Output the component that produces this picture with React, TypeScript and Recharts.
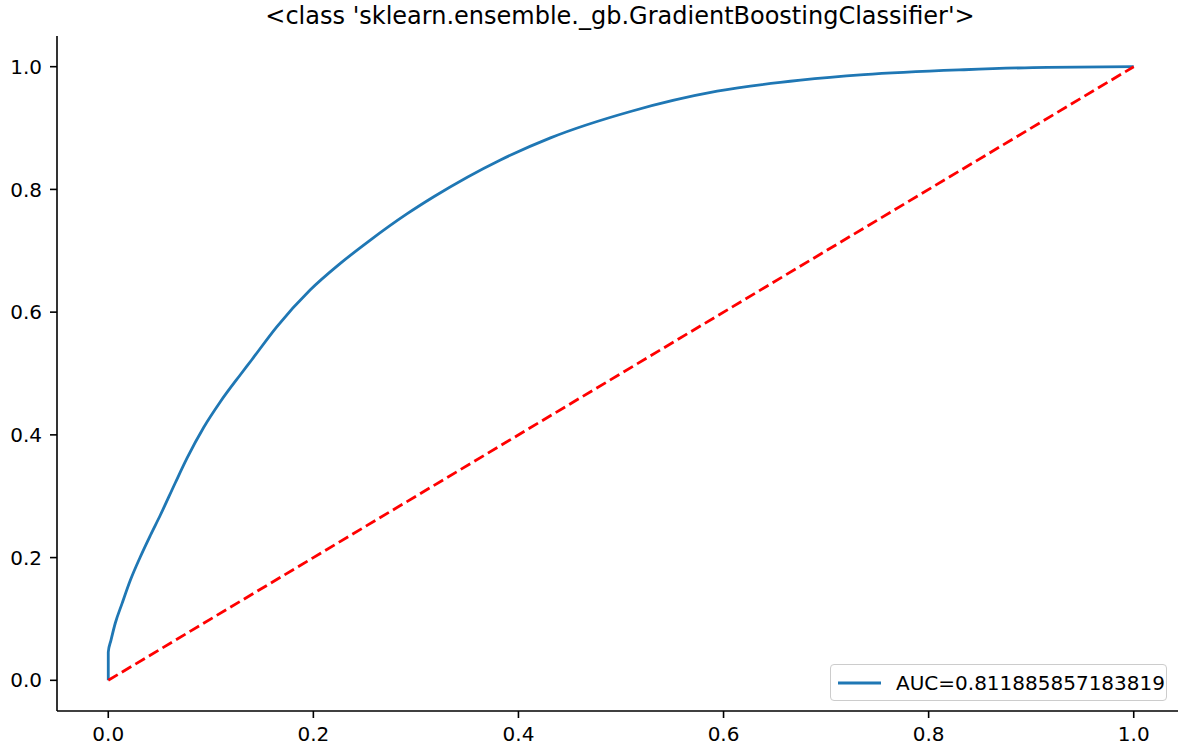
import { LineChart, Line, XAxis, YAxis, Legend } from 'recharts'

// ROC curve (false positive rate / true positive rate)
const fpr = [0, 0, 0.0026, 0.0068, 0.0134, 0.0215, 0.0312, 0.041, 0.0507, 0.0654, 0.0768, 0.093, 0.1093, 0.1288, 0.1398, 0.1643, 0.1968, 0.226, 0.2552, 0.2912, 0.3174, 0.3824, 0.4312, 0.5093, 0.5938, 0.6751, 0.7369, 0.8345, 0.9158, 1]
const tpr = [0, 0.046, 0.065, 0.093, 0.125, 0.163, 0.201, 0.236, 0.269, 0.322, 0.362, 0.412, 0.454, 0.498, 0.522, 0.576, 0.636, 0.679, 0.717, 0.76, 0.788, 0.848, 0.884, 0.927, 0.96, 0.978, 0.987, 0.995, 0.999, 1]

const chanceX = [0, 1]
const chanceY = [0, 1]

const ticks = [0, 0.2, 0.4, 0.6, 0.8, 1.0]
const title = "<class 'sklearn.ensemble._gb.GradientBoostingClassifier'>"
const aucLabel = 'AUC=0.811885857183819'

const rocData = fpr.map((x, i) => ({ x, y: tpr[i] }))
const chanceData = chanceX.map((x, i) => ({ x, y: chanceY[i] }))

const FONT = '"DejaVu Sans", sans-serif'
const fmt = (v: number) => v.toFixed(1)

function AucLegend() {
  return (
    <div
      style={{
        width: 337,
        height: 37,
        boxSizing: 'border-box',
        border: '1.5px solid #cccccc',
        borderRadius: 4,
        background: 'rgba(255,255,255,0.8)',
        display: 'flex',
        alignItems: 'center',
        fontFamily: FONT,
        fontSize: 20,
        color: '#000',
      }}
    >
      <svg width={60} height={10} style={{ marginLeft: 5 }}>
        <line x1={2} y1={5} x2={45} y2={5} stroke="#1f77b4" strokeWidth={3} />
      </svg>
      <span style={{ whiteSpace: 'nowrap' }}>{aucLabel}</span>
    </div>
  )
}

export default function App() {
  return (
    <div style={{ position: 'absolute', left: 0, top: 0, width: 1178, height: 746, overflow: 'hidden', background: '#fff' }}>
      <LineChart width={1185} height={746} margin={{ top: 36, right: 0, bottom: 0, left: 0 }}>
        <text x={620} y={24} textAnchor="middle" fontFamily={FONT} fontSize={24} fill="#000">
          {title}
        </text>
        <XAxis
          dataKey="x"
          type="number"
          domain={[-0.05, 1.05]}
          allowDataOverflow
          ticks={ticks}
          tickFormatter={fmt}
          height={35}
          tickSize={7}
          tickMargin={9}
          axisLine={{ stroke: '#000', strokeWidth: 1.6 }}
          tickLine={{ stroke: '#000', strokeWidth: 1.6 }}
          tick={{ fill: '#000', fontSize: 20, fontFamily: FONT }}
        />
        <XAxis
          xAxisId="top"
          orientation="top"
          dataKey="x"
          type="number"
          domain={[-0.05, 1.05]}
          allowDataOverflow
          height={0}
          tick={false}
          tickLine={false}
          axisLine={{ stroke: '#000', strokeWidth: 1.6 }}
        />
        <YAxis
          type="number"
          domain={[-0.05, 1.05]}
          allowDataOverflow
          ticks={ticks}
          tickFormatter={fmt}
          width={57}
          tickSize={7}
          tickMargin={8}
          axisLine={{ stroke: '#000', strokeWidth: 1.6 }}
          tickLine={{ stroke: '#000', strokeWidth: 1.6 }}
          tick={{ fill: '#000', fontSize: 20, fontFamily: FONT }}
        />
        <Legend
          layout="vertical"
          align="center"
          verticalAlign="middle"
          content={() => <AucLegend />}
          wrapperStyle={{ position: 'absolute', left: 830, top: 664, width: 337, height: 37 }}
        />
        <Line
          data={rocData}
          dataKey="y"
          name={aucLabel}
          type="monotoneX"
          stroke="#1f77b4"
          strokeWidth={2.8}
          dot={false}
          isAnimationActive={false}
        />
        <Line
          data={chanceData}
          dataKey="y"
          type="linear"
          stroke="#ff0000"
          strokeWidth={2.8}
          strokeDasharray="11 4.8"
          dot={false}
          legendType="none"
          isAnimationActive={false}
        />
      </LineChart>
    </div>
  )
}
